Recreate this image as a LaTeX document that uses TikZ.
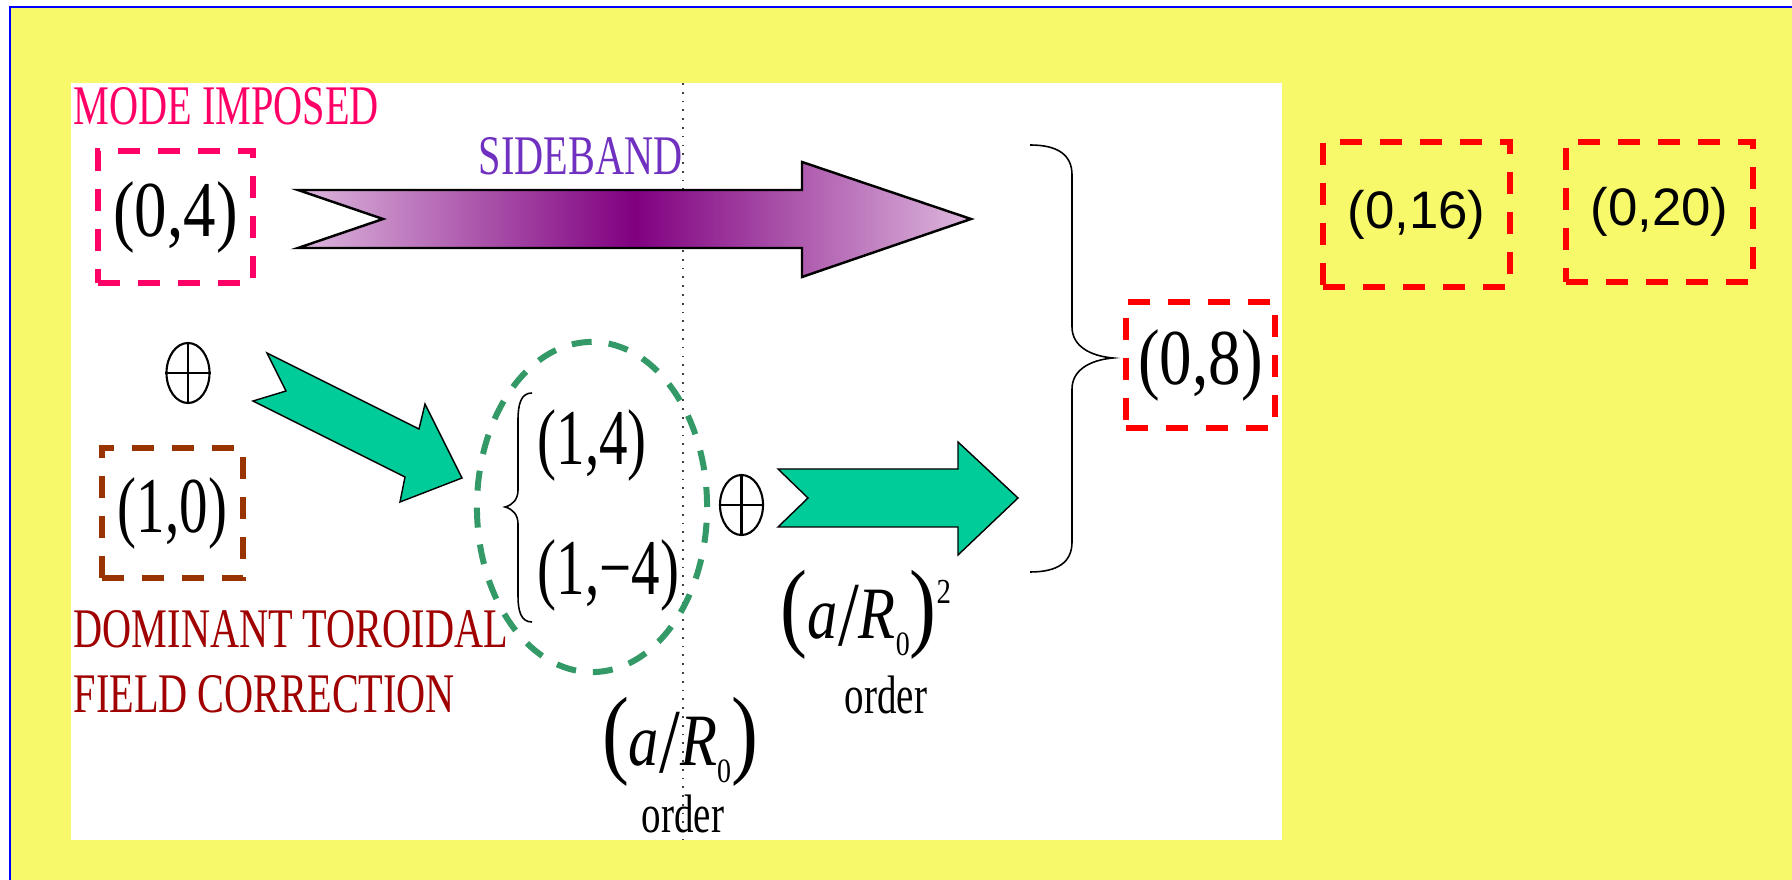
\documentclass[tikz,border=0pt]{standalone}
\usepackage{fontspec}
\setmainfont{Liberation Serif}
\newfontfamily\condfont[FakeStretch=0.72]{Liberation Serif}
\newfontfamily\eqfont[FakeStretch=0.82]{Liberation Serif}
\newfontfamily\eqnarrowfont[FakeStretch=0.72]{Liberation Serif}
\newfontfamily\arialfont{Liberation Sans}
\usetikzlibrary{shapes.geometric}
\definecolor{bgyellow}{HTML}{F7F96B}
\definecolor{modepink}{HTML}{FF0066}
\definecolor{sideviolet}{HTML}{7030C0}
\definecolor{domred}{HTML}{A00000}
\definecolor{brownbox}{HTML}{993300}
\definecolor{ellgreen}{HTML}{339966}
\definecolor{arrgreen}{HTML}{00CC99}
\definecolor{lightpurp}{HTML}{DDB8DD}
\definecolor{darkpurp}{HTML}{800080}
\newcommand\labfont{\condfont\fontsize{15.9pt}{18pt}\selectfont}
\newcommand\eqbig{\eqfont\fontsize{22.5pt}{24pt}\selectfont}
\newcommand\eqnar{\eqnarrowfont\fontsize{22.5pt}{24pt}\selectfont}
\newcommand\ordfont{\condfont\fontsize{15.4pt}{18pt}\selectfont}
\newcommand\boxsans{\arialfont\fontsize{15pt}{17pt}\selectfont}
\newcommand\aRo{{\eqfont\fontsize{28pt}{28pt}\selectfont(}{\eqfont\itshape\fontsize{21pt}{21pt}\selectfont a}\raisebox{-0.2em}{\eqfont\fontsize{26pt}{26pt}\selectfont/}{\eqfont\itshape\fontsize{21pt}{21pt}\selectfont R}\raisebox{-4.8pt}{\eqfont\fontsize{9.7pt}{10pt}\selectfont 0}{\eqfont\fontsize{28pt}{28pt}\selectfont)}}
\tikzset{
  dbox/.style={draw, line width=0.06cm, dash pattern=on 0.22cm off 0.18cm, inner sep=0pt},
  blockarrow/.style={draw=black, line width=0.4pt, line join=miter},
  curly/.style={draw=black, line width=0.45pt},
  oplus/.style={draw, ellipse, line width=0.6pt, inner sep=0pt, minimum width=0.43cm, minimum height=0.60cm},
  lbl/.style={inner sep=0pt}
}
\begin{document}
\begin{tikzpicture}[x=0.01cm,y=-0.01cm]
\useasboundingbox (0,0) rectangle (1792,880);
\fill[white] (0,0) rectangle (1792,880);
\fill[bgyellow] (10,7) rectangle (1792,880);
\draw[blue, line width=0.6pt] (10,880) -- (10,7) -- (1792,7);
\fill[white] (71,83) rectangle (1282,840);

% dotted divider
\coordinate (dtop) at (683,83);
\coordinate (dbot) at (683,840);
\draw[black!75, dotted, line width=0.5pt] (dtop) -- (dbot);

% labels
\node[lbl, anchor=base west, text=modepink, font=\labfont] (lmode) at (73,125) {MODE IMPOSED};
\node[lbl, anchor=base east, text=sideviolet, font=\labfont] (lside) at (683,175) {SIDEBAND};
\node[lbl, anchor=base west, text=domred, font=\labfont] (ldom1) at (73,647) {DOMINANT TOROIDAL};
\node[lbl, anchor=base west, text=domred, font=\labfont] (ldom2) at (73,712) {FIELD CORRECTION};

% boxes
\node[dbox, draw=modepink, minimum width=1.55cm, minimum height=1.32cm, font=\eqbig] (m04) at (175.5,217) {(0,4)};
\node[dbox, draw=brownbox, minimum width=1.41cm, minimum height=1.30cm, font=\eqnar] (m10) at (172.5,513) {(1,0)};
\node[dbox, draw=red, minimum width=1.49cm, minimum height=1.26cm, font=\eqbig] (m08) at (1200.5,365) {(0,8)};
\node[dbox, draw=red, minimum width=1.87cm, minimum height=1.45cm, font=\boxsans] (m016) at (1416.5,214.5) {(0,16)};
\node[dbox, draw=red, minimum width=1.87cm, minimum height=1.40cm, font=\boxsans] (m020) at (1659.5,212) {(0,20)};

% sideband arrow
\coordinate (sA) at (298,190);
\coordinate (sN) at (383,219);
\coordinate (sB) at (298,248);
\coordinate (sC) at (802,248);
\coordinate (sD) at (802,277);
\coordinate (sT) at (971,219);
\coordinate (sE) at (802,162);
\coordinate (sF) at (802,190);
\draw[line width=0.7pt, left color=lightpurp, right color=lightpurp, middle color=darkpurp]
  (sA) -- (sN) -- (sB) -- (sC) -- (sD) -- (sT) -- (sE) -- (sF) -- cycle;

% oplus symbols
\node[oplus] (op1) at (188,373) {};
\draw[line width=0.6pt] (op1.north) -- (op1.south) (op1.west) -- (op1.east);
\node[oplus] (op2) at (741.5,505) {};
\draw[line width=0.6pt] (op2.north) -- (op2.south) (op2.west) -- (op2.east);

% green arrow 1 (diagonal)
\coordinate (gA) at (267,353);
\coordinate (gN) at (286,391);
\coordinate (gB) at (253,401);
\coordinate (gC) at (405,477);
\coordinate (gD) at (400,502);
\coordinate (gT) at (462,478);
\coordinate (gE) at (425,404);
\coordinate (gF) at (419,429);
\draw[blockarrow, fill=arrgreen] (gA) -- (gN) -- (gB) -- (gC) -- (gD) -- (gT) -- (gE) -- (gF) -- cycle;

% green arrow 2 (horizontal)
\coordinate (hA) at (778,469);
\coordinate (hN) at (808,498);
\coordinate (hB) at (778,527);
\coordinate (hC) at (958,527);
\coordinate (hD) at (958,555);
\coordinate (hT) at (1018,498);
\coordinate (hE) at (958,442);
\coordinate (hF) at (958,469);
\draw[blockarrow, fill=arrgreen] (hA) -- (hN) -- (hB) -- (hC) -- (hD) -- (hT) -- (hE) -- (hF) -- cycle;

% dashed ellipse with the pair of modes
\node[draw=ellgreen, ellipse, line width=0.06cm, dash pattern=on 0.2cm off 0.17cm, minimum width=2.30cm, minimum height=3.30cm, inner sep=0pt] (ell) at (592,507) {};
\node[lbl, anchor=west, font=\eqnar] (m14) at (537,445) {(1,4)};
\node[lbl, anchor=west, font=\eqnar] (m1m4) at (537,575) {(1,−4)};
\draw[curly] (532,393) .. controls (521,393) and (518,404) .. (518,420) -- (518,490)
  .. controls (518,499) and (513,505) .. (505,507)
  .. controls (513,509) and (518,515) .. (518,524) -- (518,596)
  .. controls (518,611) and (521,622) .. (532,622);

% big right brace
\draw[curly] (1030,145) .. controls (1058,145) and (1072,155) .. (1072,175) -- (1072,327)
  .. controls (1072,346) and (1090,356) .. (1113,358)
  .. controls (1090,360) and (1072,370) .. (1072,389) -- (1072,542)
  .. controls (1072,562) and (1058,572) .. (1030,572);

% order labels
\node[lbl, font=\eqfont] (ar1) at (680,742) {\aRo};
\node[lbl, anchor=base, font=\ordfont] (ord1) at (683,832) {order};
\node[lbl, font=\eqfont] (ar2) at (866,615) {\aRo\raisebox{10pt}{\eqfont\fontsize{10pt}{10pt}\selectfont 2}};
\node[lbl, anchor=base, font=\ordfont] (ord2) at (886,713) {order};
\end{tikzpicture}
\end{document}
